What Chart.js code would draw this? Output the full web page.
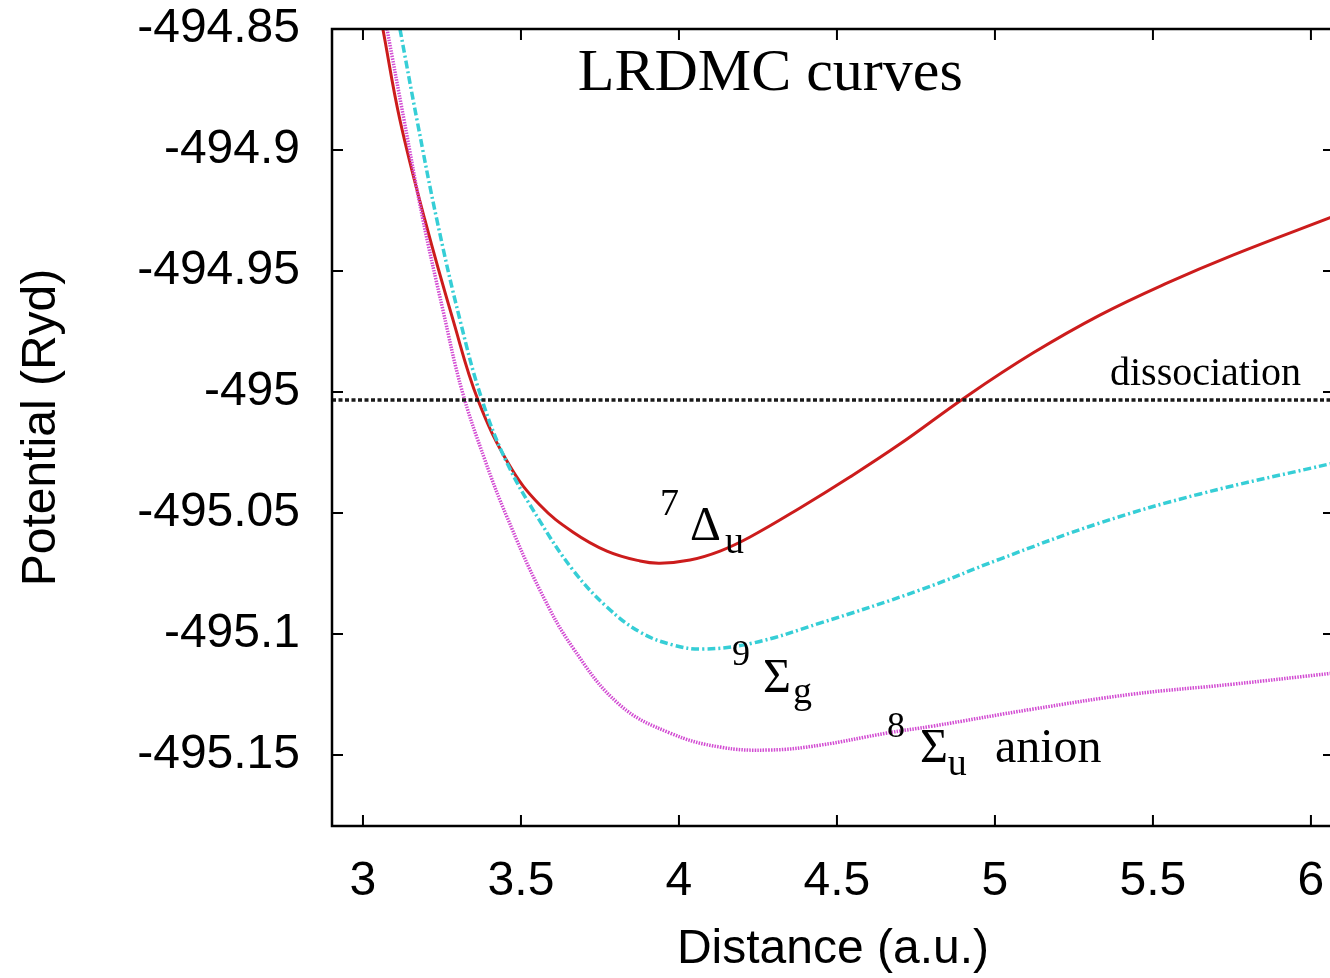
<!DOCTYPE html>
<html>
<head>
<meta charset="utf-8">
<script src="https://cdn.jsdelivr.net/npm/chart.js@4.4.0/dist/chart.umd.min.js"></script>
<style>
  html, body { margin: 0; padding: 0; background: #fff; overflow: hidden; }
  #wrap { width: 1340px; height: 978px; }
</style>
</head>
<body>
<div id="wrap"><canvas id="lrdmc-chart" width="1340" height="978"></canvas></div>
<script>
// 7 Delta_u
const deltaX = [3.063, 3.117, 3.196, 3.285, 3.364, 3.465, 3.560, 3.665, 3.772, 3.877, 3.940, 4.035, 4.130, 4.225, 4.383, 4.541, 4.699, 4.911, 5.120, 5.332, 5.544, 5.753, 6.073];
const deltaY = [-494.8500, -494.8876, -494.9289, -494.9702, -495.0033, -495.0306, -495.0467, -495.0579, -495.0657, -495.0698, -495.0707, -495.0694, -495.0657, -495.0599, -495.0479, -495.0351, -495.0215, -495.0017, -494.9839, -494.9682, -494.9550, -494.9434, -494.9273];

// 9 Sigma_g
const sigmaGX = [3.117, 3.171, 3.234, 3.307, 3.377, 3.456, 3.560, 3.665, 3.772, 3.877, 3.981, 4.076, 4.234, 4.446, 4.763, 5.016, 5.332, 5.649, 6.073];
const sigmaGY = [-494.8500, -494.8876, -494.9289, -494.9702, -495.0033, -495.0293, -495.0533, -495.0736, -495.0888, -495.0992, -495.1045, -495.1062, -495.1037, -495.0955, -495.0818, -495.0690, -495.0541, -495.0421, -495.0293];

// 8 Sigma_u anion
const sigmaUX = [3.076, 3.130, 3.190, 3.253, 3.313, 3.386, 3.456, 3.560, 3.665, 3.813, 3.972, 4.130, 4.288, 4.446, 4.658, 4.804, 5.120, 5.437, 5.753, 6.073];
const sigmaUY = [-494.8500, -494.8876, -494.9289, -494.9661, -494.9992, -495.0281, -495.0517, -495.0818, -495.1058, -495.1293, -495.1409, -495.1467, -495.1479, -495.1459, -495.1409, -495.1380, -495.1310, -495.1248, -495.1207, -495.1161];

// dissociation level
const dissocX = [2.902, 6.073];
const dissocY = [-495.0033, -495.0033];

const xTicks = [3, 3.5, 4, 4.5, 5, 5.5, 6];
const xTickLabels = ['3', '3.5', '4', '4.5', '5', '5.5', '6'];
const yTicks = [-494.85, -494.9, -494.95, -495, -495.05, -495.1, -495.15];
const yTickLabels = ['-494.85', '-494.9', '-494.95', '-495', '-495.05', '-495.1', '-495.15'];

const toPoints = (xs, ys) => xs.map((x, i) => ({ x: x, y: ys[i] }));

// text placed on the plot (data coords, left/baseline)
const plotLabels = [
  { text: 'LRDMC curves', x: 3.680, y: -494.8752, size: 60 },
  { text: 'dissociation', x: 5.364, y: -494.9971, size: 40 },
  { text: '7', x: 3.940, y: -495.0508, size: 38 },
  { text: '\u0394', x: 4.035, y: -495.0612, size: 48 },
  { text: 'u', x: 4.146, y: -495.0665, size: 38 },
  { text: '9', x: 4.168, y: -495.1128, size: 36 },
  { text: '\u03A3', x: 4.266, y: -495.1240, size: 48 },
  { text: 'g', x: 4.361, y: -495.1285, size: 38 },
  { text: '8', x: 4.658, y: -495.1426, size: 36 },
  { text: '\u03A3', x: 4.763, y: -495.1529, size: 48 },
  { text: 'u', x: 4.851, y: -495.1583, size: 38 },
  { text: 'anion', x: 5.000, y: -495.1529, size: 48 }
];

const framePlugin = {
  id: 'frame',
  afterDatasetsDraw(chart) {
    const ctx = chart.ctx;
    const a = chart.chartArea;
    const xs = chart.scales.x;
    const ys = chart.scales.y;
    ctx.save();

    ctx.fillStyle = '#000';
    ctx.textAlign = 'left';
    ctx.textBaseline = 'alphabetic';
    plotLabels.forEach(l => {
      ctx.font = l.size + 'px "Liberation Serif"';
      ctx.fillText(l.text, xs.getPixelForValue(l.x), ys.getPixelForValue(l.y));
    });

    ctx.strokeStyle = '#000';
    ctx.lineWidth = 2.5;
    ctx.strokeRect(a.left, a.top, a.right - a.left, a.bottom - a.top);

    const tl = 11;
    ctx.lineWidth = 2;
    ctx.beginPath();
    xTicks.forEach(v => {
      const px = xs.getPixelForValue(v);
      ctx.moveTo(px, a.bottom); ctx.lineTo(px, a.bottom - tl);
      ctx.moveTo(px, a.top); ctx.lineTo(px, a.top + tl);
    });
    yTicks.forEach(v => {
      const py = ys.getPixelForValue(v);
      ctx.moveTo(a.left, py); ctx.lineTo(a.left + tl, py);
      ctx.moveTo(a.right, py); ctx.lineTo(a.right - tl, py);
    });
    ctx.stroke();
    ctx.restore();
  }
};

const ctx = document.getElementById('lrdmc-chart').getContext('2d');

const lrdmcChart = new Chart(ctx, {
  type: 'scatter',
  data: {
    datasets: [
      {
        label: 'dissociation',
        data: toPoints(dissocX, dissocY),
        showLine: true,
        borderColor: '#1a1a1a',
        borderWidth: 3.5,
        borderDash: [4, 2.5],
        pointRadius: 0
      },
      {
        label: '8 Sigma_u anion',
        data: toPoints(sigmaUX, sigmaUY),
        showLine: true,
        borderColor: '#d24cd2',
        borderWidth: 3.5,
        borderDash: [1.5, 1.2],
        pointRadius: 0,
        tension: 0.4
      },
      {
        label: '9 Sigma_g',
        data: toPoints(sigmaGX, sigmaGY),
        showLine: true,
        borderColor: '#36ced6',
        borderWidth: 3.5,
        borderDash: [8, 3, 2, 3],
        pointRadius: 0,
        tension: 0.4
      },
      {
        label: '7 Delta_u',
        data: toPoints(deltaX, deltaY),
        showLine: true,
        borderColor: '#cc1c1c',
        borderWidth: 3,
        pointRadius: 0,
        tension: 0.4
      }
    ]
  },
  options: {
    responsive: false,
    animation: false,
    layout: { padding: { top: 29, right: 6, bottom: 0, left: 0 } },
    plugins: {
      legend: { display: false },
      tooltip: { enabled: false }
    },
    scales: {
      x: {
        type: 'linear',
        position: 'bottom',
        min: 2.902,
        max: 6.073,
        grid: { display: false, drawTicks: false },
        border: { display: false },
        afterBuildTicks: sc => { sc.ticks = xTicks.map(v => ({ value: v })); },
        afterFit: sc => { sc.height = 152; sc.paddingLeft = 0; sc.paddingRight = 0; },
        ticks: {
          autoSkip: false,
          maxRotation: 0,
          padding: 27,
          color: '#000',
          font: { size: 48, family: 'Liberation Sans' },
          callback: (v, i) => xTickLabels[i]
        },
        title: {
          display: true,
          text: 'Distance (a.u.)',
          color: '#000',
          font: { size: 48, family: 'Liberation Sans', lineHeight: 1 },
          padding: { top: 0, bottom: 4 }
        }
      },
      y: {
        type: 'linear',
        min: -495.1793,
        max: -494.85,
        grid: { display: false, drawTicks: false },
        border: { display: false },
        afterBuildTicks: sc => { sc.ticks = yTicks.map(v => ({ value: v })); },
        afterFit: sc => { sc.width = 332; sc.paddingTop = 0; sc.paddingBottom = 0; },
        ticks: {
          autoSkip: false,
          padding: 32,
          color: '#000',
          font: { size: 48, family: 'Liberation Sans' },
          callback: (v, i) => yTickLabels[i]
        },
        title: {
          display: true,
          text: 'Potential (Ryd)',
          color: '#000',
          font: { size: 48, family: 'Liberation Sans', lineHeight: 1 },
          padding: { top: 18, bottom: 0 }
        }
      }
    }
  },
  plugins: [framePlugin]
});
</script>
</body>
</html>
